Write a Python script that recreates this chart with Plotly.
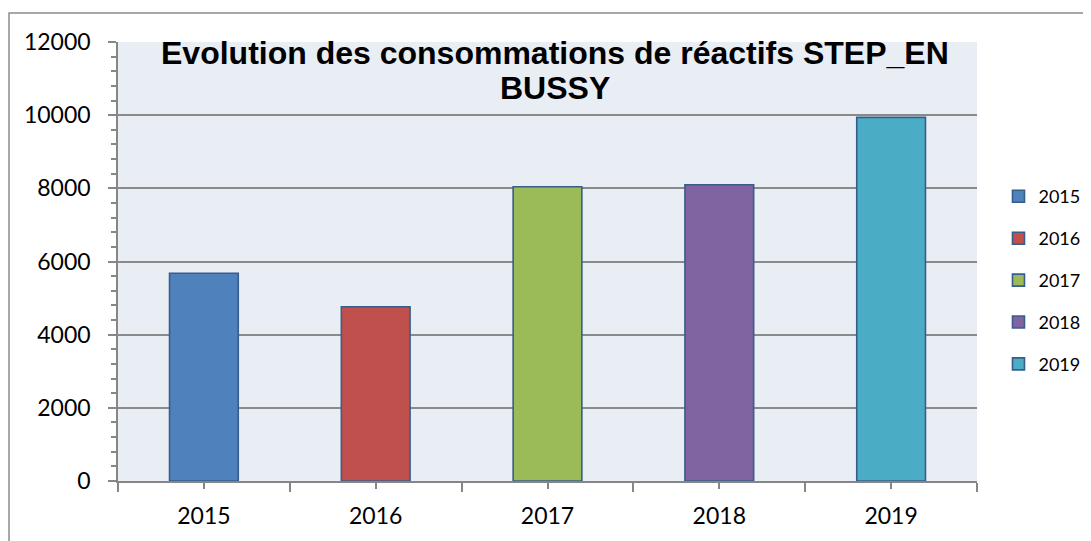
import plotly.graph_objects as go

years = ["2015", "2016", "2017", "2018", "2019"]
values = [5680, 4765, 8045, 8100, 9940]
colors = ["#4f81bd", "#c0504d", "#9bbb59", "#8064a2", "#4bacc6"]
title_lines = ["Evolution des consommations de réactifs STEP_EN", "BUSSY"]
y_ticks = [0, 2000, 4000, 6000, 8000, 10000, 12000]

xpos = list(range(len(years)))
bounds = [i - 0.5 for i in range(len(years) + 1)]

# page body has an 8px default margin: figure is sized/offset to compensate
PW, PH = 1083, 533
ML, MT, MR, MB = 110, 34, 114, 60
plot_w = PW - ML - MR
plot_h = PH - MT - MB

fig = go.Figure()
for i, (yr, v, c) in enumerate(zip(years, values, colors)):
    fig.add_trace(go.Bar(
        x=[xpos[i]], y=[v], name=yr, legendgroup=yr,
        marker=dict(color=c, line=dict(color="#385d8a", width=1.6)),
        width=0.4,
    ))

axis_col = "#868686"
font_main = "Lato, Carlito, Calibri, sans-serif"
title_font = dict(family="Liberation Sans, Arial, sans-serif", size=32, color="black")

annotations = []
for k, (line, ypix) in enumerate(zip(title_lines, [53, 88])):
    annotations.append(dict(
        text="<b>" + line + "</b>", showarrow=False,
        xref="paper", yref="paper",
        x=(555 - 118) / plot_w, xanchor="center",
        y=(481 - ypix) / plot_h, yanchor="middle",
        font=title_font,
    ))

fig.update_layout(
    width=PW, height=PH,
    margin=dict(l=ML, r=MR, t=MT, b=MB, autoexpand=False),
    paper_bgcolor="white",
    plot_bgcolor="#e9edf4",
    barmode="overlay",
    showlegend=True,
    legend=dict(
        x=1.025, xanchor="left", y=0.69, yanchor="top",
        font=dict(family=font_main, size=18, color="black"),
        tracegroupgap=15.5, bgcolor="rgba(0,0,0,0)",
    ),
    annotations=annotations,
    xaxis=dict(
        range=[-0.5, len(years) - 0.5],
        tickmode="array", tickvals=xpos, ticktext=years,
        showgrid=False, zeroline=False,
        showline=True, linecolor=axis_col, linewidth=1.6,
        ticks="outside", ticklen=6, tickwidth=1.6, tickcolor=axis_col,
        tickfont=dict(family=font_main, size=23, color="black"),
        ticklabelstandoff=8,
        minor=dict(tickmode="array", tickvals=bounds, ticks="outside",
                   ticklen=9, tickwidth=1.6, tickcolor=axis_col, showgrid=False),
        fixedrange=True,
    ),
    xaxis2=dict(
        overlaying="x", anchor="y", side="bottom",
        range=[-0.5, len(years) - 0.5],
        tickmode="array", tickvals=xpos, showticklabels=False,
        showgrid=False, zeroline=False, showline=False,
        ticks="inside", ticklen=6, tickwidth=1.6, tickcolor=axis_col,
        minor=dict(tickmode="array", tickvals=bounds, ticks="inside",
                   ticklen=8, tickwidth=1.6, tickcolor=axis_col, showgrid=False),
    ),
    yaxis=dict(
        range=[0, 12000],
        tickmode="array", tickvals=y_ticks, ticktext=[str(t) for t in y_ticks],
        showgrid=True, gridcolor="#8a8a8a", gridwidth=1.8,
        zeroline=False,
        showline=True, linecolor=axis_col, linewidth=1.6,
        ticks="outside", ticklen=8, tickwidth=1.6, tickcolor=axis_col,
        tickfont=dict(family=font_main, size=23, color="black"),
        ticklabelstandoff=13,
        minor=dict(dtick=400, ticks="outside", ticklen=5, tickwidth=1.6,
                   tickcolor=axis_col, showgrid=False),
        fixedrange=True,
    ),
    yaxis2=dict(
        overlaying="y", anchor="x", side="left",
        range=[0, 12000],
        tickmode="array", tickvals=y_ticks, showticklabels=False,
        showgrid=False, zeroline=False, showline=False,
        ticks="inside", ticklen=7, tickwidth=1.6, tickcolor=axis_col,
        minor=dict(dtick=400, ticks="inside", ticklen=6, tickwidth=1.6,
                   tickcolor=axis_col, showgrid=False),
    ),
    shapes=[dict(
        type="rect", xref="paper", yref="paper",
        x0=(9 - 118) / plot_w, x1=(1100 - 118) / plot_w,
        y0=(481 - 560) / plot_h, y1=(481 - 13) / plot_h,
        line=dict(color="#8c8c8c", width=1.5), fillcolor="rgba(0,0,0,0)",
        layer="below",
    )],
)

fig.write_html("out.html")
